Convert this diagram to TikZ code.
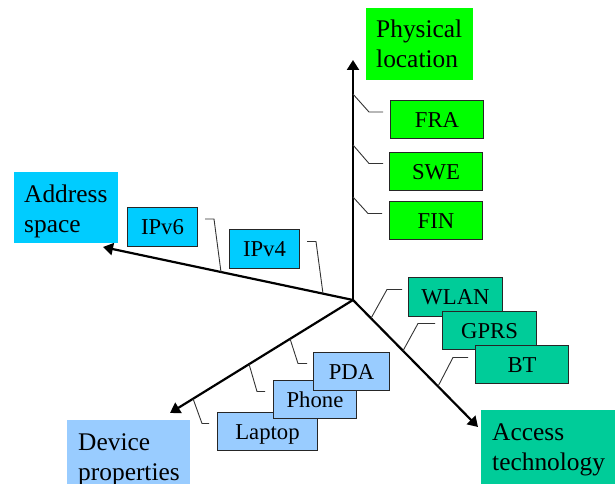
\documentclass[tikz,border=0pt]{standalone}
\usepackage{fontspec}
\setmainfont{Liberation Serif}
\usetikzlibrary{arrows.meta,calc}
\definecolor{cgreen}{RGB}{0,255,0}
\definecolor{ccyan}{RGB}{0,204,255}
\definecolor{cblue}{RGB}{153,204,255}
\definecolor{cteal}{RGB}{0,204,153}
\tikzset{
  axis/.style={line width=2.2pt, -{Triangle[length=10pt,width=12pt]}},
  leader/.style={line width=0.9pt, black!80},
  sbox/.style={draw=black!85, line width=1pt, inner sep=0pt, anchor=north west,
    text height=15.5pt, text depth=0pt, font=\fontsize{22.7}{27}\selectfont},
  hbox/.style={inner sep=0pt, anchor=north west},
  htxt/.style={inner sep=0pt, anchor=base west, font=\fontsize{25.4}{30}\selectfont},
}
\begin{document}
\begin{tikzpicture}[x=1pt,y=-1pt]
\useasboundingbox (0,0) rectangle (616,484);
% header boxes
\node[hbox, fill=cgreen, minimum width=107pt, minimum height=72pt] (physbox) at (366,8) {};
\node[htxt] (phys1) at (376,38) {Physical};
\node[htxt] (phys2) at (376,68) {location};
\node[hbox, fill=ccyan, minimum width=104pt, minimum height=71pt] (addrbox) at (14,172) {};
\node[htxt] (addr1) at (24,202) {Address};
\node[htxt] (addr2) at (24,232) {space};
\node[hbox, fill=cblue, minimum width=123pt, minimum height=64pt] (devbox) at (67,420) {};
\node[htxt] (dev1) at (78,450) {Device};
\node[htxt] (dev2) at (78,480) {properties};
\node[hbox, fill=cteal, minimum width=134pt, minimum height=74pt] (accbox) at (481,410) {};
\node[htxt] (acc1) at (492,440) {Access};
\node[htxt] (acc2) at (492,470) {technology};
% axes
\coordinate (c) at (353,300);
\coordinate (tipU) at (353,60);
\coordinate (tipA) at (103,247);
\coordinate (tipD) at (170,413);
\coordinate (tipT) at (478,427);
\draw[axis] (c) -- (tipU);
\draw[axis] (c) -- (tipA);
\draw[axis] (c) -- (tipD);
\draw[axis] (c) -- (tipT);
% small boxes
\node[sbox, fill=cgreen, minimum width=93pt, minimum height=38pt] (fra) at (390,100) {FRA};
\node[sbox, fill=cgreen, minimum width=93pt, minimum height=38pt] (swe) at (389,152) {SWE};
\node[sbox, fill=cgreen, minimum width=93pt, minimum height=38pt] (fin) at (389,201) {FIN};
\node[sbox, fill=ccyan, minimum width=70pt, minimum height=39pt] (ipv6) at (127,207) {IPv6};
\node[sbox, fill=ccyan, minimum width=70pt, minimum height=39pt] (ipv4) at (229,229) {IPv4};
\node[sbox, fill=cblue, minimum width=100pt, minimum height=38pt] (laptop) at (217,412) {Laptop};
\node[sbox, fill=cblue, minimum width=83pt, minimum height=38pt] (phone) at (273,380) {Phone};
\node[sbox, fill=cblue, minimum width=76pt, minimum height=38pt] (pda) at (313,352) {PDA};
\node[sbox, fill=cteal, minimum width=94pt, minimum height=39pt] (wlan) at (408,277) {WLAN};
\node[sbox, fill=cteal, minimum width=94pt, minimum height=38pt] (gprs) at (442,311) {GPRS};
\node[sbox, fill=cteal, minimum width=93pt, minimum height=38pt] (bt) at (475,345) {BT};
% leaders
\draw[leader] ($(c)!0.858!(tipU)$) -- ($(fra.west)+(-21,-7.5)$) -- ($(fra.west)+(-7,-7.5)$);
\draw[leader] ($(c)!0.646!(tipU)$) -- ($(swe.west)+(-20,-8)$) -- ($(swe.west)+(-6,-8)$);
\draw[leader] ($(c)!0.429!(tipU)$) -- ($(fin.west)+(-21,-7)$) -- ($(fin.west)+(-7,-7)$);
\draw[leader] ($(c)!0.528!(tipA)$) -- ($(ipv6.east)+(16,-8)$) -- ($(ipv6.east)+(7,-8)$);
\draw[leader] ($(c)!0.12!(tipA)$) -- ($(ipv4.east)+(16,-7.5)$) -- ($(ipv4.east)+(7,-7.5)$);
\draw[leader] ($(c)!0.344!(tipD)$) -- ($(pda.west)+(-15,-8)$) -- ($(pda.west)+(-6,-8)$);
\draw[leader] ($(c)!0.568!(tipD)$) -- ($(phone.west)+(-16,-8)$) -- ($(phone.west)+(-8,-8)$);
\draw[leader] ($(c)!0.874!(tipD)$) -- ($(laptop.west)+(-15,-8)$) -- ($(laptop.west)+(-8,-8)$);
\draw[leader] ($(c)!0.144!(tipT)$) -- ($(wlan.west)+(-21,-7.5)$) -- ($(wlan.west)+(-6,-7.5)$);
\draw[leader] ($(c)!0.40!(tipT)$) -- ($(gprs.west)+(-24,-7)$) -- ($(gprs.west)+(-7,-7)$);
\draw[leader] ($(c)!0.68!(tipT)$) -- ($(bt.west)+(-22,-7)$) -- ($(bt.west)+(-7,-7)$);
\end{tikzpicture}
\end{document}
